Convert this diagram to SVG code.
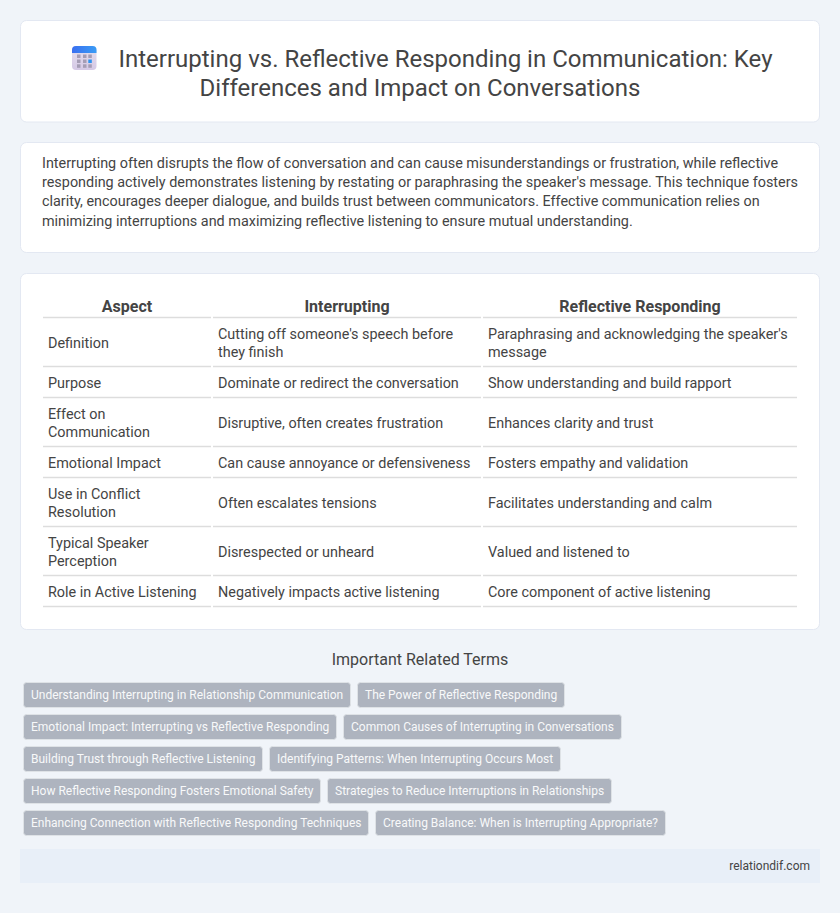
<svg xmlns="http://www.w3.org/2000/svg" width="840" height="913" viewBox="0 0 840 913">
<defs>
<linearGradient id="iconBody" x1="0" y1="0" x2="0" y2="1"><stop offset="0" stop-color="#e6e0ee"/><stop offset="1" stop-color="#d5c9e6"/></linearGradient>
<linearGradient id="iconTop" x1="0" y1="0" x2="1" y2="0"><stop offset="0" stop-color="#3a6ff0"/><stop offset="1" stop-color="#3a9cf5"/></linearGradient>
</defs>
<style>
text{font-family:Roboto,"Liberation Sans",sans-serif}
.card{fill:#fff;stroke:#e3e8f2;stroke-width:1}
.title{font-size:24px;fill:#444;text-anchor:middle}
.p{font-size:14.4px;fill:#444}
.th{font-size:16px;font-weight:700;fill:#444;text-anchor:middle}
.td{font-size:14.4px;fill:#444}
.ln{stroke:#ddd;stroke-width:1.5}
.tag rect{fill:#aeb4bf;stroke:#dee2e6;stroke-width:1}
.tag text{font-size:12px;font-weight:400;fill:#f8f9fa}
</style>
<rect width="840" height="913" fill="#f0f4f9"/>
<g id="header">
<rect class="card" x="20.5" y="20.5" width="799" height="101.5" rx="6"/>
<rect x="72" y="46" width="24.500" height="24" rx="4" fill="url(#iconBody)"/>
<path d="M72 53v-3a4 4 0 0 1 4-4h16.500a4 4 0 0 1 4 4v3z" fill="url(#iconTop)"/>
<g fill="#a59db5"><rect x="77" y="54.500" width="3.500" height="3.500"/><rect x="83" y="54.500" width="3.500" height="3.500"/><rect x="88.300" y="54.500" width="3.500" height="3.500"/><rect x="77" y="59.500" width="3.500" height="3.500"/><rect x="83" y="59.500" width="3.500" height="3.500"/><rect x="88.300" y="59.500" width="3.500" height="3.500" fill="#2e93f0"/><rect x="77" y="64.300" width="3.500" height="3.500"/><rect x="83" y="64.300" width="3.500" height="3.500"/><rect x="88.300" y="64.300" width="3.500" height="3.500"/></g>
<text class="title" x="445.500" y="67">Interrupting vs. Reflective Responding in Communication: Key</text>
<text class="title" x="420" y="96">Differences and Impact on Conversations</text>
</g>
<g id="intro">
<rect class="card" x="20.500" y="142.500" width="799" height="110" rx="6"/>
<text class="p" x="42" y="168">Interrupting often disrupts the flow of conversation and can cause misunderstandings or frustration, while reflective</text>
<text class="p" x="42" y="187">responding actively demonstrates listening by restating or paraphrasing the speaker's message. This technique fosters</text>
<text class="p" x="42" y="206">clarity, encourages deeper dialogue, and builds trust between communicators. Effective communication relies on</text>
<text class="p" x="42" y="226">minimizing interruptions and maximizing reflective listening to ensure mutual understanding.</text>
</g>
<g id="table">
<rect class="card" x="20.500" y="273.500" width="799" height="356" rx="6"/>
<g class="ln">
<path d="M43 317.500H211M213 317.500H481M483 317.500H797"/>
<path d="M43 366.500H211M213 366.500H481M483 366.500H797"/>
<path d="M43 397.500H211M213 397.500H481M483 397.500H797"/>
<path d="M43 446.500H211M213 446.500H481M483 446.500H797"/>
<path d="M43 477.500H211M213 477.500H481M483 477.500H797"/>
<path d="M43 526.500H211M213 526.500H481M483 526.500H797"/>
<path d="M43 575.500H211M213 575.500H481M483 575.500H797"/>
<path d="M43 606.500H211M213 606.500H481M483 606.500H797"/>
</g>
<text class="th" x="127" y="312">Aspect</text><text class="th" x="347" y="312">Interrupting</text><text class="th" x="640" y="312">Reflective Responding</text>
<text class="td" x="48" y="348">Definition</text>
<text class="td" x="218" y="339">Cutting off someone's speech before</text><text class="td" x="218" y="357">they finish</text>
<text class="td" x="488" y="339">Paraphrasing and acknowledging the speaker's</text><text class="td" x="488" y="357">message</text>
<text class="td" x="48" y="388">Purpose</text><text class="td" x="218" y="388">Dominate or redirect the conversation</text><text class="td" x="488" y="388">Show understanding and build rapport</text>
<text class="td" x="48" y="419">Effect on</text><text class="td" x="48" y="437">Communication</text><text class="td" x="218" y="428">Disruptive, often creates frustration</text><text class="td" x="488" y="428">Enhances clarity and trust</text>
<text class="td" x="48" y="468">Emotional Impact</text><text class="td" x="218" y="468">Can cause annoyance or defensiveness</text><text class="td" x="488" y="468">Fosters empathy and validation</text>
<text class="td" x="48" y="499">Use in Conflict</text><text class="td" x="48" y="517">Resolution</text><text class="td" x="218" y="508">Often escalates tensions</text><text class="td" x="488" y="508">Facilitates understanding and calm</text>
<text class="td" x="48" y="548">Typical Speaker</text><text class="td" x="48" y="566">Perception</text><text class="td" x="218" y="557">Disrespected or unheard</text><text class="td" x="488" y="557">Valued and listened to</text>
<text class="td" x="48" y="597">Role in Active Listening</text><text class="td" x="218" y="597">Negatively impacts active listening</text><text class="td" x="488" y="597">Core component of active listening</text>
</g>
<g id="terms">
<text x="420" y="665" font-size="16" fill="#444" text-anchor="middle">Important Related Terms</text>
<g class="tag"><rect x="23.500" y="682.500" width="327" height="25" rx="3"/><text x="31" y="699">Understanding Interrupting in Relationship Communication</text></g>
<g class="tag"><rect x="357.500" y="682.500" width="207" height="25" rx="3"/><text x="365" y="699">The Power of Reflective Responding</text></g>
<g class="tag"><rect x="23.500" y="714.500" width="313" height="25" rx="3"/><text x="31" y="731">Emotional Impact: Interrupting vs Reflective Responding</text></g>
<g class="tag"><rect x="343.500" y="714.500" width="278" height="25" rx="3"/><text x="351" y="731">Common Causes of Interrupting in Conversations</text></g>
<g class="tag"><rect x="23.500" y="746.500" width="239" height="25" rx="3"/><text x="31" y="763">Building Trust through Reflective Listening</text></g>
<g class="tag"><rect x="269.500" y="746.500" width="291" height="25" rx="3"/><text x="277" y="763">Identifying Patterns: When Interrupting Occurs Most</text></g>
<g class="tag"><rect x="23.500" y="778.500" width="297" height="25" rx="3"/><text x="31" y="795">How Reflective Responding Fosters Emotional Safety</text></g>
<g class="tag"><rect x="327.500" y="778.500" width="284" height="25" rx="3"/><text x="335" y="795">Strategies to Reduce Interruptions in Relationships</text></g>
<g class="tag"><rect x="23.500" y="810.500" width="345" height="25" rx="3"/><text x="31" y="827">Enhancing Connection with Reflective Responding Techniques</text></g>
<g class="tag"><rect x="375.500" y="810.500" width="290" height="25" rx="3"/><text x="383" y="827">Creating Balance: When is Interrupting Appropriate?</text></g>
</g>
<g id="footer">
<rect x="20" y="849" width="800" height="34" fill="#e8eff8"/>
<text x="810" y="870" font-size="12" fill="#444" text-anchor="end">relationdif.com</text>
</g>
</svg>
